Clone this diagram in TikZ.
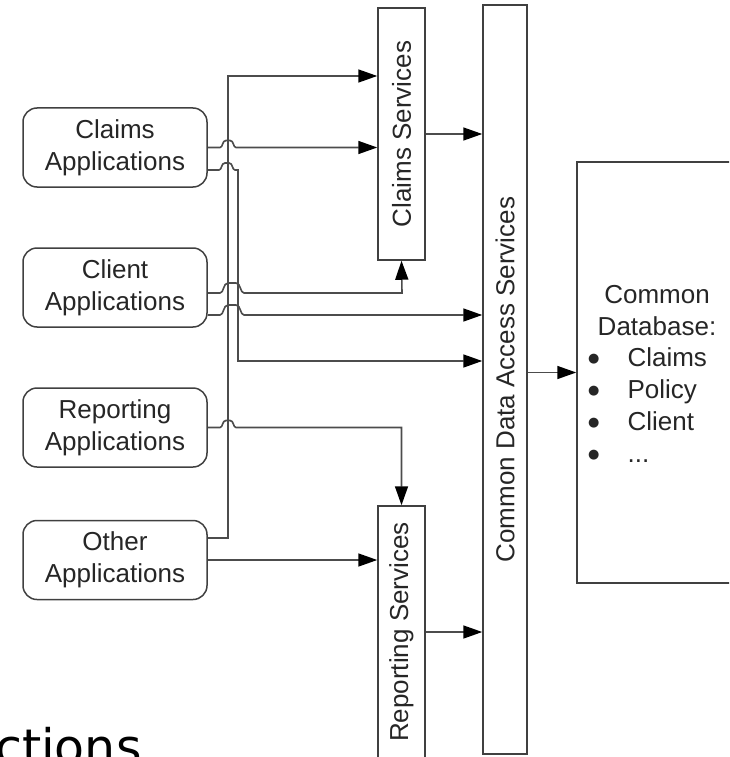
\documentclass[tikz,border=0pt]{standalone}
\usepackage{fontspec}
\usepackage{graphicx}
\setmainfont{Liberation Sans}
\newfontfamily\tailfont{DejaVu Sans}
\usetikzlibrary{arrows.meta,calc}

% list marker: a round dot
\newcommand{\dbdot}{\raisebox{4pt}{\tailfont\fontsize{13}{13}\selectfont ●}}

\begin{document}
\begin{tikzpicture}[x=1pt,y=-1pt,
  every node/.style={font=\fontsize{26}{32}\selectfont, text=black!85},
  appbox/.style={draw=black!75, line width=1.5pt, rounded corners=14pt,
    minimum width=184pt, minimum height=79pt, inner sep=0pt, align=center},
  svcbox/.style={draw=black!75, line width=1.5pt, inner sep=0pt},
  wire/.style={draw=black!70, line width=1.6pt},
  conn/.style={wire, -{Triangle[length=19pt,width=13pt,color=black]}},
  % line hop over one vertical line
  hop/.style={to path={.. controls ($(\tikztostart)+(3,0)$) and ($(\tikztostart)+(2,-7)$)
      .. ($(\tikztostart)+(6,-7)$) -- ($(\tikztotarget)+(-6,-7)$)
      .. controls ($(\tikztotarget)+(-2,-7)$) and ($(\tikztotarget)+(-3,0)$) .. (\tikztotarget)}},
  % wider hop over two vertical lines
  hopp/.style={to path={.. controls ($(\tikztostart)+(4,0)$) and ($(\tikztostart)+(3,-10)$)
      .. ($(\tikztostart)+(8,-10)$) -- ($(\tikztotarget)+(-8,-10)$)
      .. controls ($(\tikztotarget)+(-3,-10)$) and ($(\tikztotarget)+(-4,0)$) .. (\tikztotarget)}}
]
\clip (0,0) rectangle (729,757);

% application boxes
\node[appbox] (ca) at (115,147.5) {Claims\\Applications};
\node[appbox] (cl) at (115,287.5) {Client\\Applications};
\node[appbox] (ra) at (115,427.5) {Reporting\\Applications};
\node[appbox] (oa) at (115,560) {Other\\Applications};

% service layers
\node[svcbox, minimum width=47pt, minimum height=252pt] (cs) at (401.5,134)
  {\rotatebox{90}{Claims Services}};
\node[svcbox, minimum width=47pt, minimum height=252pt] (rs) at (401.5,632)
  {\rotatebox{90}{Reporting Services}};
\node[svcbox, minimum width=44pt, minimum height=749pt] (cdas) at (505,379.5)
  {\rotatebox{90}{Common Data Access Services}};

% database
\node[svcbox, minimum width=160pt, minimum height=421pt] (db) at (657,372.5) {};
\node[anchor=base, inner sep=0pt] (dbhead) at (657,303)
  {\begin{tabular}[t]{@{}c@{}}Common\\Database:\end{tabular}};
\node[anchor=base west, inner sep=0pt] (dblist) at (588,366)
  {\begin{tabular}[t]{@{}l@{\hspace{28pt}}l@{}}\dbdot&Claims\\\dbdot&Policy\\\dbdot&Client\\\dbdot&...\end{tabular}};

% bend points
\coordinate (t1) at (228,76);
\coordinate (t2) at (228,538);
\coordinate (d1) at (238,170);
\coordinate (d2) at (238,361);
\coordinate (c1) at (402,293);
\coordinate (c2) at (300,315);

% trunk from Other Applications up to Claims Services
\draw[conn] (oa.east |- t2) -- (t2) -- (t1) -- (cs.west |- t1);

% Claims Applications
\draw[conn] (ca.east) -- (220,147.5) to[hop] (236,147.5) -- (cs.west |- ca.east);
\draw[conn] (ca.east |- d1) -- (219,170) to[hop] (235,170) -- (d1) -- (d2) -- (cdas.west |- d2);

% Client Applications
\draw[conn] (cl.east |- c1) -- (220,293) to[hopp] (244,293) -- (c1) -- (cs.south);
\draw[conn] (cl.east |- c2) -- (220,315) to[hopp] (244,315) -- (cdas.west |- c2);

% Reporting Applications
\draw[conn] (ra.east) -- (220,427.5) to[hop] (236,427.5) -- (rs.north |- ra.east) -- (rs.north);

% Other Applications
\draw[conn] (oa.east) -- (rs.west |- oa.east);

% services into the data access layer
\draw[conn] (cs.east) -- (cdas.west |- cs.east);
\draw[conn] (rs.east) -- (cdas.west |- rs.east);
\draw[conn] (cdas.east |- db.west) -- (db.west);

% slide caption running off the page
\node[font=\tailfont\fontsize{49}{55}\selectfont, text=black, anchor=base west, inner sep=0pt]
  (tail) at (-5,764) {ctions};
\end{tikzpicture}
\end{document}
